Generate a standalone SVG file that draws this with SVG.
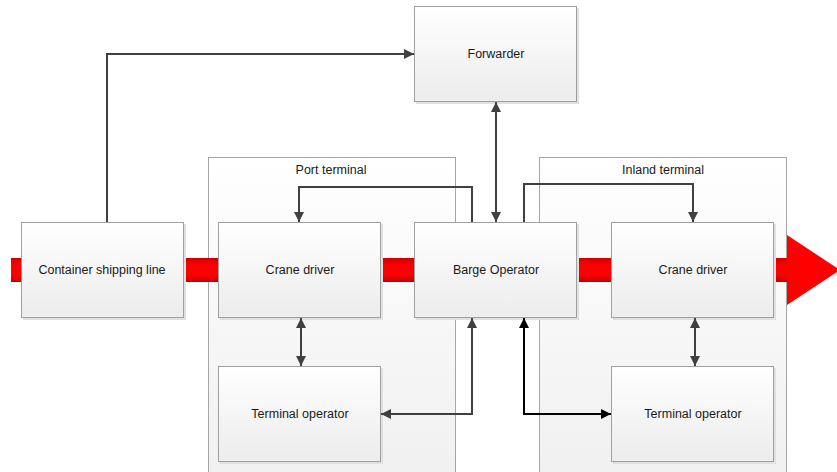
<svg xmlns="http://www.w3.org/2000/svg" width="837" height="472" viewBox="0 0 837 472">
<defs>
<linearGradient id="boxg" x1="0" y1="0" x2="0" y2="1"><stop offset="0" stop-color="#ffffff"/><stop offset="1" stop-color="#ececec"/></linearGradient>
<linearGradient id="contg" x1="0" y1="0" x2="0" y2="1"><stop offset="0" stop-color="#ffffff"/><stop offset="1" stop-color="#f0f0f0"/></linearGradient>
<linearGradient id="redg" x1="0" y1="0" x2="0" y2="1"><stop offset="0" stop-color="#d00000"/><stop offset="0.3" stop-color="#ff0000"/><stop offset="0.7" stop-color="#ff0000"/><stop offset="1" stop-color="#c00000"/></linearGradient>
<marker id="ah" viewBox="0 0 10 10" refX="10" refY="5" markerWidth="10" markerHeight="10" markerUnits="userSpaceOnUse" orient="auto-start-reverse"><path d="M0,0 L10,5 L0,10 z" fill="#404040"/></marker>
<marker id="ahk" viewBox="0 0 10 10" refX="10" refY="5" markerWidth="10" markerHeight="10" markerUnits="userSpaceOnUse" orient="auto-start-reverse"><path d="M0,0 L10,5 L0,10 z" fill="#000000"/></marker>
</defs>
<style>
.cont{fill:url(#contg);stroke:#a6a6a6;stroke-width:1}
.box{fill:url(#boxg);stroke:#a0a0a0;stroke-width:1}
.sh{fill:#e0e0e0}
.t{font-family:"Liberation Sans",Arial,sans-serif;font-size:12.5px;fill:#1a1a1a;text-anchor:middle}
.c{fill:none;stroke:#404040;stroke-width:2}
.ck{fill:none;stroke:#000000;stroke-width:2}
</style>
<rect width="837" height="472" fill="#ffffff"/>
<g id="port-terminal"><rect class="cont" x="208.5" y="157.5" width="247" height="320"/><text class="t" x="331" y="174">Port terminal</text></g>
<g id="inland-terminal"><rect class="cont" x="539.5" y="157.5" width="247" height="320"/><text class="t" x="663" y="174">Inland terminal</text></g>
<g id="flow"><rect x="11" y="258" width="777" height="24" fill="url(#redg)"/><polygon points="787,235 840,270 787,305" fill="#ff0000"/></g>
<g id="container-shipping-line"><rect class="sh" x="23" y="224" width="163" height="96"/><rect class="box" x="21.5" y="222.5" width="162" height="95"/><text class="t" x="102" y="274">Container shipping line</text></g>
<g id="forwarder"><rect class="sh" x="416" y="8" width="163" height="96"/><rect class="box" x="414.5" y="6.5" width="162" height="95"/><text class="t" x="496" y="58">Forwarder</text></g>
<g id="crane-port"><rect class="sh" x="220" y="224" width="163" height="96"/><rect class="box" x="218.5" y="222.5" width="162" height="95"/><text class="t" x="300" y="274">Crane driver</text></g>
<g id="barge-operator"><rect class="sh" x="416" y="224" width="163" height="96"/><rect class="box" x="414.5" y="222.5" width="162" height="95"/><text class="t" x="496" y="274">Barge Operator</text></g>
<g id="crane-inland"><rect class="sh" x="613" y="224" width="163" height="96"/><rect class="box" x="611.5" y="222.5" width="162" height="95"/><text class="t" x="693" y="274">Crane driver</text></g>
<g id="terminal-op-port"><rect class="sh" x="220" y="368" width="163" height="96"/><rect class="box" x="218.5" y="366.5" width="162" height="95"/><text class="t" x="300" y="418">Terminal operator</text></g>
<g id="terminal-op-inland"><rect class="sh" x="613" y="368" width="163" height="96"/><rect class="box" x="611.5" y="366.5" width="162" height="95"/><text class="t" x="693" y="418">Terminal operator</text></g>
<g id="connectors">
<path class="c" d="M107,222 V54 H414" marker-end="url(#ah)"/>
<path class="c" d="M496,102 V222" marker-start="url(#ah)" marker-end="url(#ah)"/>
<path class="c" d="M472,222 V187 H299 V222" marker-end="url(#ah)"/>
<path class="c" d="M524,222 V184 H693 V222" marker-end="url(#ah)"/>
<path class="c" d="M301,318 V366" marker-start="url(#ah)" marker-end="url(#ah)"/>
<path class="c" d="M695,318 V366" marker-start="url(#ah)" marker-end="url(#ah)"/>
<path class="c" d="M472,318 V414 H381" marker-start="url(#ah)" marker-end="url(#ah)"/>
<path class="ck" d="M524,318 V414 H611" marker-start="url(#ahk)" marker-end="url(#ahk)"/>
</g>
</svg>
